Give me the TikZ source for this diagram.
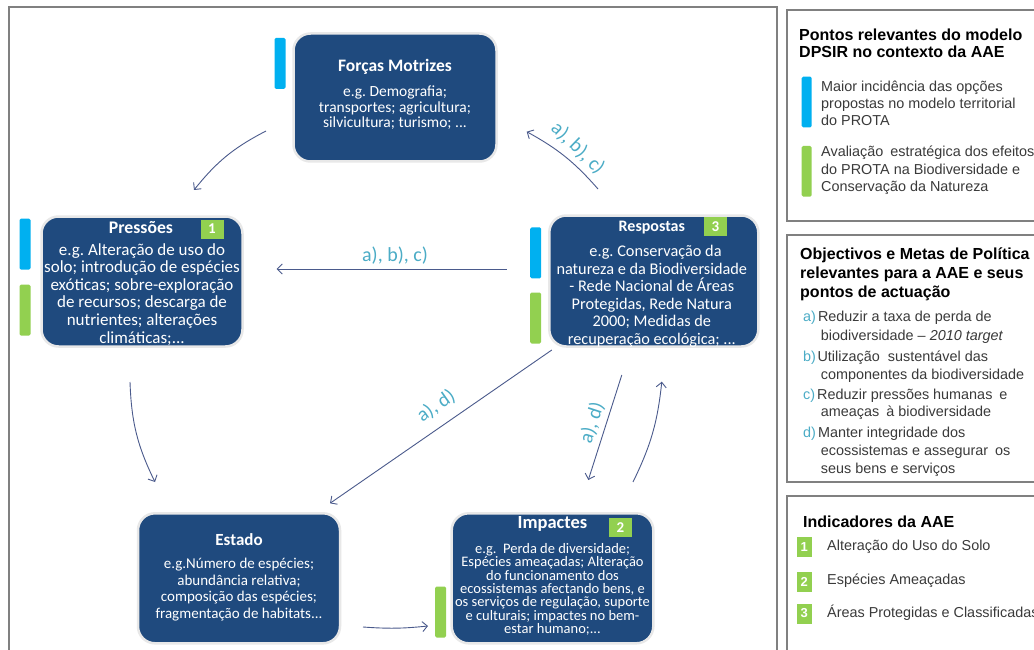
\documentclass[tikz,border=0pt]{standalone}
\usepackage{fontspec}
\setmainfont{Carlito}
\newfontfamily\arialf{Liberation Sans}
\usetikzlibrary{arrows.meta,calc}
\definecolor{dpblue}{HTML}{1F4A7E}
\definecolor{barblue}{HTML}{00B0F0}
\definecolor{bargreen}{HTML}{92D050}
\definecolor{arrc}{HTML}{4A5A8C}
\definecolor{lblc}{HTML}{4BACC6}
\definecolor{framec}{HTML}{808080}
\definecolor{ptextc}{HTML}{3A3A3A}
\newcommand\fs[2]{\fontsize{#1pt}{#2pt}\selectfont}
\newcommand\bodyblk[4]{\vtop{\hsize=#1pt\centering\fontsize{#2pt}{#3pt}\selectfont\noindent #4\par}}
\frenchspacing
\begin{document}
\begin{tikzpicture}[x=1pt,y=-1pt,
  box/.style={fill=dpblue, draw=black!9, line width=2.5pt, rounded corners=17pt, inner sep=0pt},
  ttxt/.style={anchor=base, inner sep=0pt, text=white, font=\bfseries},
  btxt/.style={anchor=base, inner sep=0pt, text=white},
  bar/.style={minimum width=11pt, minimum height=51pt, inner sep=0pt, rounded corners=1.5pt},
  badge/.style={fill=bargreen, text=white, font=\bfseries\fs{15}{15}, minimum width=23pt, minimum height=19pt, inner sep=0pt},
  pbadge/.style={fill=bargreen, text=white, font=\arialf\bfseries\fs{13}{13}, minimum width=15pt, minimum height=20pt, inner sep=0pt},
  arr/.style={draw=arrc, line width=0.9pt, -{Straight Barb[length=5pt,width=10pt]}},
  lbl/.style={text=lblc, font=\fs{20}{20}, inner sep=0pt},
  ptext/.style={anchor=base west, inner sep=0pt, font=\arialf\fs{14.4}{17}, text=ptextc},
  ptitle/.style={anchor=base west, inner sep=0pt, font=\arialf\bfseries\fs{16}{19}, text=black},
  panel/.style={draw=framec, line width=1.2pt},
]
\useasboundingbox (0,0) rectangle (1034,650);
\clip (0,0) rectangle (1034,650);
\fill[white] (0,0) rectangle (1034,650);

% frames
\draw[panel] (9,7) rectangle (777,665);
\draw[panel] (787,10) rectangle (1045,221);
\draw[panel] (787,235) rectangle (1045,482);
\draw[panel] (787,496) rectangle (1045,665);

% main boxes
\node[box, minimum width=203pt, minimum height=128pt] (F) at (395,97.5) {};
\node[box, minimum width=201pt, minimum height=130pt] (P) at (142,281.5) {};
\node[box, minimum width=209pt, minimum height=131pt] (R) at (653.8,281) {};
\node[box, minimum width=202pt, minimum height=130pt] (E) at (239,578.3) {};
\node[box, minimum width=201.6pt, minimum height=130pt] (I) at (552.5,578.3) {};

% box texts
\node[ttxt, font=\bfseries\fs{17.5}{19}] (Ft) at ($(F)+(0,-25.5)$) {Forças Motrizes};
\node[btxt] (Fx) at ($(F)+(0,-0.5)$) {\bodyblk{200}{15.5}{15.5}{e.g. Demografia;\\ transportes; agricultura;\\ silvicultura; turismo; ...}};

\node[ttxt, font=\bfseries\fs{17.7}{19}] (Pt) at ($(P)+(-1,-48.2)$) {Pressões};
\node[btxt] (Px) at ($(P)+(0,-26.5)$) {\bodyblk{201}{17}{17.6}{e.g. Alteração de uso do\\ solo; introdução de espécies\\ exóticas; sobre-exploração\\ de recursos; descarga de\\ nutrientes; alterações\\ climáticas;...}};

\node[ttxt, font=\bfseries\fs{16}{19}] (Rt) at ($(R)+(-2,-49.3)$) {Respostas};
\node[btxt] (Rx) at ($(R)+(-2,-24.3)$) {\bodyblk{209}{16.3}{17.5}{\ \ e.g. Conservação da\\ natureza e da Biodiversidade\\ - Rede Nacional de Áreas\\ Protegidas, Rede Natura\\ 2000; Medidas de\\ recuperação ecológica; ...}};

\node[ttxt, font=\bfseries\fs{17}{19}] (Et) at ($(E)+(0,-33.3)$) {Estado};
\node[btxt] (Ex) at ($(E)+(0,-10)$) {\bodyblk{202}{15}{16.7}{e.g.Número de espécies;\\ abundância relativa;\\ composição das espécies;\\ fragmentação de habitats...}};

\node[ttxt, font=\bfseries\fs{18.5}{19}] (It) at ($(I)+(0,-50)$) {Impactes};
\node[btxt] (Ix) at ($(I)+(0,-25)$) {\bodyblk{201.6}{14.5}{13.4}{e.g.\ \ Perda de diversidade;\\ Espécies ameaçadas; Alteração\\ do funcionamento dos\\ ecossistemas afectando bens, e\\ os serviços de regulação, suporte\\ e culturais; impactes no bem-\\ estar humano;...}};

% badges
\node[badge] (P1) at (212,229) {1};
\node[badge] (R3) at (715.3,226.7) {3};
\node[badge] (I2) at (620.3,527.8) {2};

% bars
\node[bar, fill=barblue] (Fb) at (280,63.3) {};
\node[bar, fill=barblue] (Pb) at (25,244.2) {};
\node[bar, fill=bargreen] (Pg) at (25,310) {};
\node[bar, fill=barblue] (Rb) at (535.7,252.8) {};
\node[bar, fill=bargreen] (Rg) at (535.7,318) {};
\node[bar, fill=bargreen] (Ig) at (440.5,612) {};

% arrows
\draw[arr] ($(F)+(-129,33.5)$) to[bend right=12] ($(P)+(52,-91.5)$);
\draw[arr] ($(R)+(-55.8,-92)$) to[bend right=10] ($(F)+(131.7,34.2)$);
\draw[arr] ($(R)+(-147,-12)$) -- ($(P)+(134.7,-12.5)$);
\draw[arr] ($(P)+(-12,100.5)$) to[bend right=12] ($(E)+(-84,-96.3)$);
\draw[arr] ($(R)+(-102,69)$) -- ($(E)+(91,-75)$);
\draw[arr] ($(R)+(-32,94)$) -- ($(I)+(35.8,-98.3)$);
\draw[arr] ($(I)+(80.5,-96.3)$) to[bend right=10] ($(R)+(8,100.7)$);
\draw[arr] ($(E)+(124,48.7)$) to[bend right=5] ($(I)+(-124.5,47.7)$);

% labels
\node[lbl, rotate=-44] (L1) at (578,148) {a), b), c)};
\node[lbl] (L2) at (395,256) {a), b), c)};
\node[lbl, rotate=35] (L3) at (436,406) {a), d)};
\node[lbl, rotate=72] (L4) at (592,423) {a), d)};

% panel 1
\node[ptitle] (T1a) at (799,41) {Pontos relevantes do modelo};
\node[ptitle] (T1b) at (799,58) {DPSIR no contexto da AAE};
\node[inner sep=0pt, minimum width=10pt, minimum height=50.6pt, fill=barblue, rounded corners=1.5pt] (K1) at (806.7,102) {};
\node[ptext] (K1a) at (821,91.7) {Maior incidência das opções};
\node[ptext] (K1b) at (821,108.5) {propostas no modelo territorial};
\node[ptext] (K1c) at (821,126) {do PROTA};
\node[inner sep=0pt, minimum width=10pt, minimum height=50.6pt, fill=bargreen, rounded corners=1.5pt] (K2) at (806.7,171.3) {};
\node[ptext] (K2a) at (821,157) {Avaliação\hspace{3pt} estratégica dos efeitos};
\node[ptext] (K2b) at (821,174.3) {do PROTA na Biodiversidade e};
\node[ptext] (K2c) at (821,191.7) {Conservação da Natureza};

% panel 2
\node[ptitle] (T2a) at (800,259.3) {Objectivos e Metas de Política};
\node[ptitle] (T2b) at (800,278.3) {relevantes para a AAE e seus};
\node[ptitle] (T2c) at (800,297) {pontos de actuação};
\node[ptext] (Oa1) at (803,321.7) {\textcolor{lblc}{a)}\hspace{2pt}Reduzir a taxa de perda de};
\node[ptext] (Oa2) at (820.7,340) {biodiversidade – \textit{2010 target}};
\node[ptext] (Ob1) at (803,361) {\textcolor{lblc}{b)}\hspace{1.5pt}Utilização\hspace{4pt} sustentável das};
\node[ptext] (Ob2) at (820.7,379) {componentes da biodiversidade};
\node[ptext] (Oc1) at (803,399) {\textcolor{lblc}{c)}\hspace{2pt}Reduzir pressões humanas\hspace{3pt} e};
\node[ptext] (Oc2) at (820.7,416.7) {ameaças\hspace{3pt} à biodiversidade};
\node[ptext] (Od1) at (803,437) {\textcolor{lblc}{d)}\hspace{2pt}Manter integridade dos};
\node[ptext] (Od2) at (820.7,455) {ecossistemas e assegurar\hspace{3pt} os};
\node[ptext] (Od3) at (820.7,473.3) {seus bens e serviços};

% panel 3
\node[ptitle] (T3) at (803,527.3) {Indicadores da AAE};
\node[pbadge] (B1) at (804.2,546.7) {1};
\node[ptext] (B1t) at (827,550) {Alteração do Uso do Solo};
\node[pbadge] (B2) at (804.2,581.7) {2};
\node[ptext] (B2t) at (827,584.3) {Espécies Ameaçadas};
\node[pbadge] (B3) at (804.2,613.5) {3};
\node[ptext] (B3t) at (827,617.7) {Áreas Protegidas e Classificadas};
\end{tikzpicture}
\end{document}
